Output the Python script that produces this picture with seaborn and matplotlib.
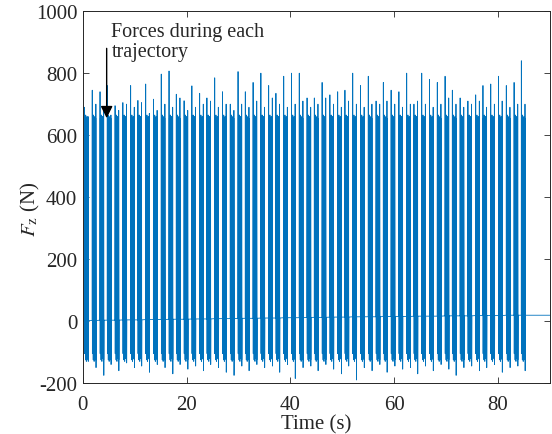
import numpy as np
import pandas as pd
import matplotlib
matplotlib.use("Agg")
import matplotlib.pyplot as plt
import seaborn as sns

# ---- data ----
cycle_start = [0.3, 1.8, 3.3, 4.7, 6.2, 7.7, 9.2, 10.6, 12.1, 13.6, 15.1, 16.6, 18.0, 19.5,
               21.0, 22.5, 23.9, 25.4, 26.9, 28.4, 29.9, 31.3, 32.8, 34.3, 35.8, 37.2, 38.7,
               40.2, 41.7, 43.2, 44.6, 46.1, 47.6, 49.1, 50.5, 52.0, 53.5, 55.0, 56.5, 57.9,
               59.4, 60.9, 62.4, 63.8, 65.3, 66.8, 68.3, 69.8, 71.2, 72.7, 74.2, 75.7, 77.1,
               78.6, 80.1, 81.6, 83.1, 84.5]
peak_first = [690, 745, 740, 760, 695, 705, 760, 712, 765, 716, 797, 807, 732, 711, 759, 735,
              720, 785, 740, 700, 805, 740, 770, 800, 760, 735, 790, 800, 800, 720, 720, 770,
              730, 740, 745, 800, 760, 790, 710, 770, 745, 740, 800, 700, 800, 780, 770, 790,
              745, 720, 710, 730, 760, 765, 790, 760, 770, 840]
peak_last = [660, 700, 690, 665, 680, 700, 690, 705, 670, 680, 700, 690, 720, 680, 690, 700,
             710, 690, 700, 680, 700, 690, 710, 690, 720, 700, 690, 700, 710, 690, 700, 720,
             700, 690, 710, 700, 690, 700, 700, 710, 700, 690, 700, 710, 700, 690, 700, 720,
             700, 690, 700, 710, 690, 700, 710, 690, 700, 700]
trough = [-130, -150, -175, -140, -160, -135, -150, -145, -165, -140, -150, -170, -140, -155,
          -145, -160, -140, -150, -165, -175, -145, -160, -140, -150, -145, -165, -140, -185,
          -150, -145, -160, -140, -155, -170, -145, -190, -150, -160, -140, -165, -145, -155,
          -150, -170, -145, -160, -140, -155, -175, -150, -145, -160, -150, -140, -165, -150,
          -145, -160]
baseline = [2, 2, 3, 3, 3, 4, 4, 4, 5, 5, 5, 6, 6, 6, 7, 7, 7, 8, 8, 8, 9, 9, 9, 10, 10, 10,
            11, 11, 11, 12, 12, 12, 13, 13, 13, 14, 14, 14, 14, 15, 15, 15, 15, 16, 16, 16, 16,
            17, 17, 17, 17, 18, 18, 18, 18, 19, 19, 19]
inner_high = [655, 640, 665, 645, 650, 660, 640, 655]
inner_low = [-105, -125, -100, -130, -110, -120, -105, -125]
inner_offset = [0.09, 0.17, 0.26, 0.34, 0.43, 0.51, 0.60, 0.68]   # s within one trajectory
end_time = 90.0
end_value = 19

# ---- assemble the force signal ----
t, f = [0.0], [baseline[0]]
for i, t0 in enumerate(cycle_start):
    t += [t0, t0 + 0.02, t0 + 0.05]
    f += [baseline[i], peak_first[i], inner_low[0]]
    for k in range(len(inner_offset)):
        t += [t0 + inner_offset[k], t0 + inner_offset[k] + 0.04]
        f += [inner_high[k], inner_low[k]]
    t += [t0 + 0.72, t0 + 0.75, t0 + 0.78]
    f += [peak_last[i], trough[i], baseline[i]]
t.append(end_time)
f.append(end_value)
df = pd.DataFrame({"Time": t, "Fz": f})

# ---- plotting ----
sns.set_style("ticks")
plt.rcParams["font.family"] = ["Liberation Serif", "DejaVu Serif"]
plt.rcParams["mathtext.fontset"] = "stix"
plt.rcParams["axes.unicode_minus"] = False
FS = 15

fig = plt.figure(figsize=(5.52, 4.35), dpi=100)
ax = fig.add_axes([0.150, 0.117, 0.846, 0.855])
sns.lineplot(data=df, x="Time", y="Fz", ax=ax, estimator=None, sort=False,
             color="#0072BD", linewidth=0.6)

ax.set_xlim(0, 90)
ax.set_ylim(-200, 1000)
ax.set_xticks([0, 20, 40, 60, 80])
ax.set_yticks([-200, 0, 200, 400, 600, 800, 1000])
ax.tick_params(direction="in", top=True, right=True, length=4, width=0.6,
               labelsize=FS, color="#262626")
ax.tick_params(axis="x", pad=8.5)
ax.tick_params(axis="y", pad=4)
for s in ax.spines.values():
    s.set_linewidth(0.7)
    s.set_color("#262626")
    s.set_visible(True)
ax.set_xlabel("Time (s)", fontsize=FS, labelpad=0)
ax.set_ylabel(r"$\mathit{F}_{\mathrm{z}}$ (N)", fontsize=FS)
ax.yaxis.set_label_coords(-0.088, 0.47)

ax.text(5.5, 965, "Forces during each\ntrajectory", fontsize=14.5, va="top", ha="left",
        linespacing=1.05)
ax.annotate("", xy=(4.6, 655), xytext=(4.6, 880),
            arrowprops=dict(arrowstyle="-|>", color="black", lw=1.0,
                            mutation_scale=18, shrinkA=0, shrinkB=0))

fig.savefig("out.png", dpi=100)
